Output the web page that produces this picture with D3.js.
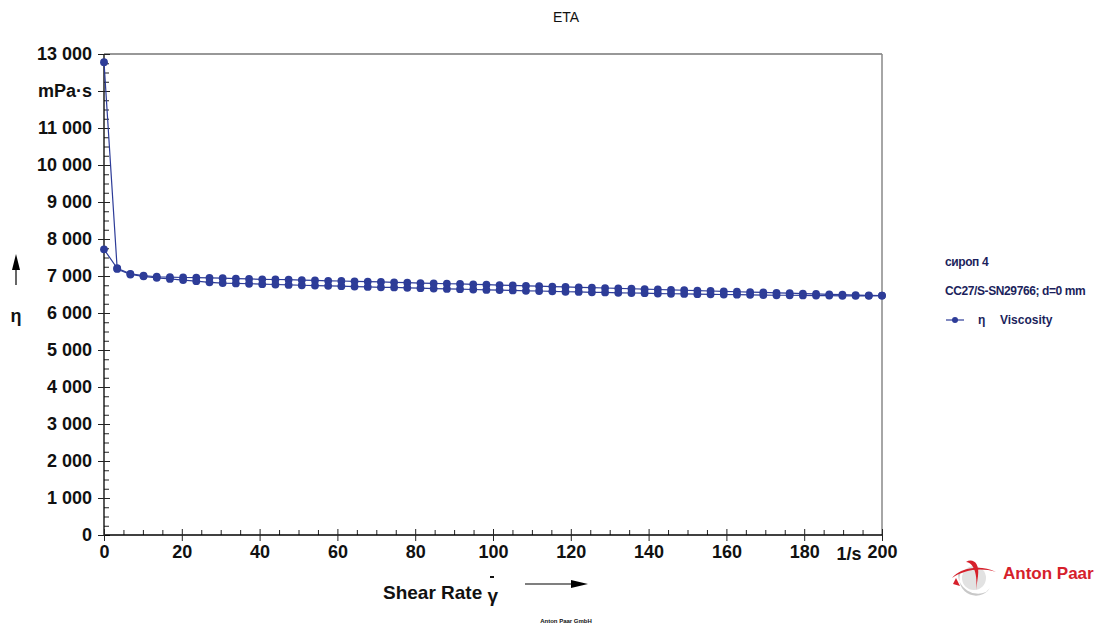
<!DOCTYPE html>
<html>
<head>
<meta charset="utf-8">
<script src="https://cdn.jsdelivr.net/npm/d3@7"></script>
<style>
  body { margin: 0; background: #fff; }
  text { font-family: "Liberation Sans", Arial, sans-serif; }
</style>
</head>
<body>
<div id="chart"></div>
<script>
// shear rate points (1/s), same for both sweeps
var shearRate = [0, 3.39, 6.78, 10.17, 13.56, 16.95, 20.34, 23.73, 27.12, 30.51,
	33.9, 37.29, 40.68, 44.07, 47.46, 50.85, 54.24, 57.63, 61.02, 64.41,
	67.8, 71.19, 74.58, 77.97, 81.36, 84.75, 88.14, 91.53, 94.92, 98.31,
	101.69, 105.08, 108.47, 111.86, 115.25, 118.64, 122.03, 125.42, 128.81, 132.2,
	135.59, 138.98, 142.37, 145.76, 149.15, 152.54, 155.93, 159.32, 162.71, 166.1,
	169.49, 172.88, 176.27, 179.66, 183.05, 186.44, 189.83, 193.22, 196.61, 200];

// viscosity, mPa·s - ramp up
var etaUp = [7720, 7210, 7060, 7010, 6980, 6970, 6960, 6955, 6950, 6940,
	6930, 6920, 6910, 6905, 6900, 6890, 6880, 6870, 6865, 6855,
	6850, 6840, 6830, 6820, 6810, 6800, 6790, 6785, 6775, 6765,
	6755, 6745, 6735, 6725, 6715, 6705, 6695, 6685, 6675, 6665,
	6655, 6645, 6635, 6625, 6615, 6605, 6595, 6585, 6575, 6565,
	6555, 6545, 6535, 6525, 6515, 6505, 6495, 6485, 6478, 6470];

// viscosity, mPa·s - ramp down (listed by ascending shear rate)
var etaDown = [12780, 7190, 7040, 6990, 6950, 6920, 6890, 6860, 6830, 6810,
	6800, 6790, 6780, 6770, 6760, 6750, 6740, 6735, 6725, 6715,
	6705, 6695, 6690, 6680, 6670, 6660, 6650, 6645, 6635, 6625,
	6620, 6610, 6600, 6595, 6585, 6575, 6570, 6560, 6555, 6545,
	6540, 6535, 6525, 6520, 6515, 6510, 6505, 6500, 6495, 6490,
	6485, 6480, 6480, 6475, 6470, 6470, 6465, 6465, 6465, 6470];

var xTicks = [0, 20, 40, 60, 80, 100, 120, 140, 160, 180, 200];
var yTicks = [0, 1000, 2000, 3000, 4000, 5000, 6000, 7000, 8000, 9000, 10000, 11000, 12000, 13000];

var legendLines = ["сироп 4", "CC27/S-SN29766; d=0 mm"];

var W = 1105, H = 624;
var blue = "#2d3c98", navy = "#1c1f5c";

var svg = d3.select("#chart").append("svg").attr("width", W).attr("height", H);

var x = d3.scaleLinear().domain([0, 200]).range([104, 882]);
var y = d3.scaleLinear().domain([0, 13000]).range([535, 54]);

// frame: top and right borders
svg.append("line").attr("x1", x(0)).attr("x2", x(200)).attr("y1", y(13000)).attr("y2", y(13000))
	.attr("stroke", "#333").attr("stroke-width", 1.2);
svg.append("line").attr("x1", x(200)).attr("x2", x(200)).attr("y1", y(13000)).attr("y2", y(0))
	.attr("stroke", "#888").attr("stroke-width", 1.5);

function fmt(v) {
	if (v === 12000) return "mPa·s";
	return d3.format(",")(v).replace(/,/g, " ");
}

// y axis
var yMinor = d3.range(0, 13001, 250).filter(function(v) { return v % 1000 !== 0; });
svg.append("g").attr("transform", "translate(" + x(0) + ",0)")
	.call(d3.axisRight(y).tickValues(yMinor).tickSize(5).tickFormat(""))
	.call(function(g) { g.select(".domain").remove(); g.selectAll("line").attr("stroke", "#222"); });

var yAx = svg.append("g").attr("transform", "translate(" + x(0) + ",0)")
	.call(d3.axisLeft(y).tickValues(yTicks).tickSize(6).tickPadding(6).tickFormat(fmt));
yAx.select(".domain").attr("d", "M0," + y(0) + "V" + y(13000)).attr("stroke", "#000").attr("stroke-width", 1.3);
yAx.selectAll(".tick line").attr("x1", 6).attr("stroke", "#222");
yAx.selectAll(".tick text").attr("font-size", 18).attr("font-weight", "bold")
	.attr("font-family", "Liberation Sans, Arial, sans-serif").attr("fill", "#111");

// x axis
var xMinor = d3.range(0, 201, 5).filter(function(v) { return v % 20 !== 0; });
svg.append("g").attr("transform", "translate(0," + y(0) + ")")
	.call(d3.axisTop(x).tickValues(xMinor).tickSize(5).tickFormat(""))
	.call(function(g) { g.select(".domain").remove(); g.selectAll("line").attr("stroke", "#222"); });

var xAx = svg.append("g").attr("transform", "translate(0," + y(0) + ")")
	.call(d3.axisBottom(x).tickValues(xTicks).tickSize(6).tickPadding(4));
xAx.select(".domain").attr("d", "M" + x(0) + ",0H" + x(200)).attr("stroke", "#000").attr("stroke-width", 1.3);
xAx.selectAll(".tick line").attr("y1", -6).attr("stroke", "#222");
xAx.selectAll(".tick text").attr("font-size", 18).attr("font-weight", "bold")
	.attr("font-family", "Liberation Sans, Arial, sans-serif").attr("fill", "#111");

// unit on x axis
svg.append("text").attr("x", x(190) + 6).attr("y", 560).attr("text-anchor", "middle")
	.attr("font-size", 18).attr("font-weight", "bold").attr("fill", "#111").text("1/s");

// series
var line = d3.line().x(function(d) { return x(d[0]); }).y(function(d) { return y(d[1]); });
[etaUp, etaDown].forEach(function(s) {
	var pts = shearRate.map(function(r, i) { return [r, s[i]]; });
	svg.append("path").datum(pts).attr("d", line).attr("fill", "none")
		.attr("stroke", blue).attr("stroke-width", 1.2);
	svg.append("g").selectAll("circle").data(pts).enter().append("circle")
		.attr("cx", function(d) { return x(d[0]); })
		.attr("cy", function(d) { return y(d[1]); })
		.attr("r", 3.9).attr("fill", blue);
});

// title
svg.append("text").attr("x", 566).attr("y", 22).attr("text-anchor", "middle")
	.attr("font-size", 14).attr("fill", "#111").text("ETA");

// x axis title
var xt = svg.append("text").attr("x", 383).attr("y", 599).attr("font-size", 19)
	.attr("font-weight", "bold").attr("fill", "#111");
xt.append("tspan").text("Shear Rate ");
xt.append("tspan").attr("dy", 3).text("γ");
svg.append("line").attr("x1", 490).attr("x2", 494).attr("y1", 577).attr("y2", 577)
	.attr("stroke", "#111").attr("stroke-width", 2);
// x arrow
svg.append("line").attr("x1", 525).attr("x2", 572).attr("y1", 584).attr("y2", 584)
	.attr("stroke", "#000").attr("stroke-width", 1.2);
svg.append("path").attr("d", "M571,580L588,584L571,588Z").attr("fill", "#000");

// y axis title
svg.append("line").attr("x1", 16).attr("x2", 16).attr("y1", 285).attr("y2", 268)
	.attr("stroke", "#000").attr("stroke-width", 1.2);
svg.append("path").attr("d", "M12,270L16,254L20,270Z").attr("fill", "#000");
svg.append("text").attr("x", 16).attr("y", 322).attr("text-anchor", "middle")
	.attr("font-size", 18).attr("font-weight", "bold").attr("fill", "#111").text("η");

// legend
var lg = svg.append("g").attr("transform", "translate(945,0)");
legendLines.forEach(function(t, i) {
	lg.append("text").attr("x", 0).attr("y", 266 + i * 29)
		.attr("font-family", "Liberation Sans Narrow, Liberation Sans, Arial, sans-serif")
		.attr("font-size", 12).attr("font-weight", "bold").attr("fill", navy)
		.attr("letter-spacing", -0.4).text(t);
});
lg.append("line").attr("x1", 1).attr("x2", 19).attr("y1", 320).attr("y2", 320)
	.attr("stroke", blue).attr("stroke-width", 1.2);
lg.append("circle").attr("cx", 10).attr("cy", 320).attr("r", 3).attr("fill", blue);
lg.append("text").attr("x", 33).attr("y", 324).attr("font-size", 12).attr("font-weight", "bold")
	.attr("fill", navy).text("η");
lg.append("text").attr("x", 55).attr("y", 324)
	.attr("font-family", "Liberation Sans Narrow, Liberation Sans, Arial, sans-serif")
	.attr("font-size", 12).attr("font-weight", "bold").attr("fill", navy).text("Viscosity");

// Anton Paar logo
var logo = svg.append("g").attr("transform", "translate(950,556)");
logo.append("path").attr("d", "M12,14 A16,16 0 0,0 40,32 L36,36 A20,20 0 0,1 8,18 Z")
	.attr("fill", "#c8c8c8");
logo.append("circle").attr("cx", 24).attr("cy", 22).attr("r", 12).attr("fill", "#e2e2e2");
logo.append("path").attr("d", "M2,22 C10,12 30,8 46,16 C30,11 14,14 2,22 Z")
	.attr("fill", "#d6202b");
logo.append("path").attr("d", "M16,6 C22,2 30,6 28,20 L26,34 C28,20 24,6 16,6 Z")
	.attr("fill", "#d6202b");
logo.append("path").attr("d", "M6,22 L10,30 L3,28 Z").attr("fill", "#d6202b");
svg.append("text").attr("x", 1003).attr("y", 579).attr("font-size", 17).attr("font-weight", "bold")
	.attr("fill", "#d6202b").text("Anton Paar");

// footer
svg.append("text").attr("x", 566).attr("y", 623).attr("text-anchor", "middle")
	.attr("font-size", 6).attr("font-weight", "bold").attr("fill", "#111").text("Anton Paar GmbH");
</script>
</body>
</html>
